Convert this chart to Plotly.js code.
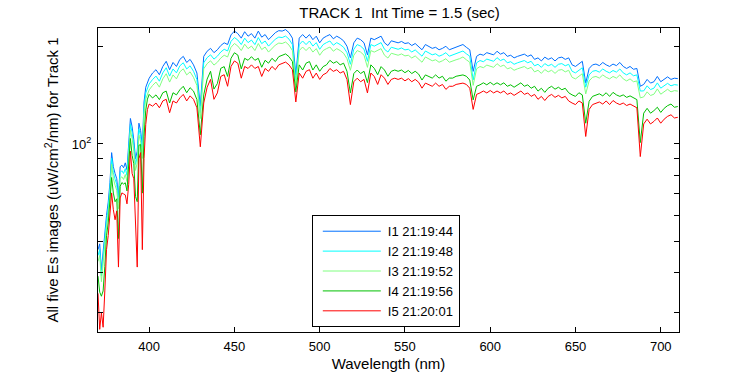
<!DOCTYPE html>
<html>
<head>
<meta charset="utf-8">
<script src="https://cdn.plot.ly/plotly-3.0.1.min.js"></script>
<style>html,body{margin:0;padding:0;background:#fff;}#chart{width:750px;height:375px;}</style>
</head>
<body>
<div id="chart"></div>
<script>
const wavelength = [370,371,372,373,374,375,376,377,378,379,380,381,382,383,384,385,386,387,388,389,390,391,392,393,394,395,396,397,398,399,400,
402,404,406,408,410,412,414,416,418,420,422,424,426,428,430,432,434,436,438,440,442,444,446,448,450,452,454,456,458,460,462,464,466,468,470,472,474,476,478,480,482,484,486,488,490,492,494,496,498,500,
502,504,506,508,510,512,514,516,518,520,522,524,526,528,530,532,534,536,538,540,542,544,546,548,550,552,554,556,558,560,562,564,566,568,570,572,574,576,578,580,582,584,586,588,590,592,594,596,598,600,
602,604,606,608,610,612,614,616,618,620,622,624,626,628,630,632,634,636,638,640,642,644,646,648,650,652,654,656,658,660,662,664,666,668,670,672,674,676,678,680,682,684,686,688,690,692,694,696,698,700,
702,704,706,708,710];

const es_I1 = [47,49,40.6,47,54,60,66,75.8,94,85,81,78,68.5,85,86,84.4,87.4,83.2,100,120,113,103,90,95,116,110,98,135,150,156,160,
166,170,164,174,180.5,170,179,174,183,187,179,183,176,166,131,187,194,198,192,196,202,206,203.5,218,224,220,213,223,216,220,213,224,214.5,218.5,210.7,216,221.5,224.7,224,226.4,221.5,213,164,213,218.5,213,218.5,210.7,216,206,
213,216,218.5,212,216,213,209,201,185,206,213,210.7,206,189,213,210.7,213,216,206,202,209,208,206,208,205,206,202,205,201,196,203.5,201,198,199.5,196,198,201,196,198,199.5,201,203.5,199.5,196,168,187,190,188.5,192,190,
189,194,190,192,187,188.5,185,187,188.5,190,187,189,183,185,181,186,183,185,181,185,186,183,185,176,174,177,180.5,154.5,171.5,176,177,175,179,176,174,177,175,179,174,171.5,174,170.5,171.5,151,153,158.6,154.5,156,162,156,
158.6,161.5,158.6,160,159.5];

const es_I2 = [45.1,47,39,45.1,51.8,57.6,63.4,72.8,90.2,81.6,77.8,74.9,65.8,81.6,82.6,81,83.9,79.9,96,115.2,108.5,98.9,86.4,91.2,111.4,105.6,94.1,129.6,144,149.8,153.6,
158.5,162.4,156.6,166.2,172.4,162.4,170.9,166.2,174.8,178.6,170.9,174.8,168.1,158.5,125.1,178.6,185.3,189.1,183.4,187.2,192.9,196.7,194.3,208.2,213.9,210.1,203.4,213,206.3,210.1,203.4,213.9,204.8,208.7,201.2,206.3,211.5,214.6,213.9,216.2,211.5,203.4,158,203.4,208.7,203.4,208.7,201.2,206.3,196.7,
203.4,206.3,208.7,202.5,206.3,203.4,199.6,192,176.7,196.7,203.4,201.2,196.7,180.5,203.4,201.2,203.4,206.3,196.7,192.9,199.6,198.6,196.7,198.6,195.8,196.7,192.9,195.8,192,187.2,194.3,192,189.1,190.5,187.2,189.1,192,187.2,189.1,190.5,192,194.3,190.5,187.2,158,178.6,181.5,180,183.4,181.5,
180.5,185.3,181.5,183.4,178.6,180,176.7,178.6,180,181.5,178.6,180.5,174.8,176.7,172.9,177.6,174.8,176.7,172.9,176.7,177.6,174.8,176.7,168.1,166.2,169,172.4,150,163.8,168.1,169,167.1,170.9,168.1,166.2,169,167.1,170.9,166.2,163.8,166.2,162.8,163.8,146,146.1,151.5,147.5,149,154.7,149,
151.5,154.2,151.5,152.8,152.3];

const es_I3 = [43.2,45.1,37.4,43.2,49.7,55.2,60.7,69.7,86.5,78.2,74.5,71.8,63,78.2,79.1,77.6,80.4,76.5,92,110.4,104,94.8,82.8,87.4,106.7,101.2,90.2,124.2,138,143.5,147.2,
151.9,155.6,150.1,159.2,165.2,155.6,163.8,159.2,167.4,171.1,163.8,167.4,161,151.9,119.9,171.1,177.5,181.2,175.7,179.3,184.8,188.5,186.2,199.5,205,201.3,194.9,204,197.6,201.3,194.9,205,196.3,199.9,192.8,197.6,202.7,205.6,205,207.2,202.7,194.9,152,194.9,199.9,194.9,199.9,192.8,197.6,188.5,
194.9,197.6,199.9,194,197.6,194.9,191.2,183.9,169.3,188.5,194.9,192.8,188.5,172.9,194.9,192.8,194.9,197.6,188.5,184.8,191.2,190.3,188.5,190.3,187.6,188.5,184.8,187.6,183.9,179.3,186.2,183.9,181.2,182.5,179.3,181.2,183.9,179.3,181.2,182.5,183.9,186.2,182.5,179.3,152,171.1,173.9,172.5,175.7,173.9,
172.9,177.5,173.9,175.7,171.1,172.5,169.3,171.1,172.5,173.9,171.1,172.9,167.4,169.3,165.6,170.2,167.4,169.3,165.6,169.3,170.2,167.4,169.3,161,159.2,162,165.2,143,156.9,161,162,160.1,163.8,161,159.2,162,160.1,163.8,159.2,156.9,159.2,156,156.9,139,140,145.1,141.4,142.7,148.2,142.7,
145.1,147.8,145.1,146.4,145.9];

const es_I4 = [38.9,34.7,33.7,35,41.7,51.9,56.9,65.1,78.7,70.4,66.2,67.6,50.9,73.9,75.9,75.1,75.8,71.5,83.8,104,92.2,86.8,68.7,66.2,99.1,99.6,70.4,105.7,127.3,137.8,142.5,
138.9,142,137.3,144.2,145.9,134,144.2,142,147.3,151,144.2,149.5,145.9,137.3,106.8,142,159,168.1,148,154,171.7,173.8,162,184.4,191.9,188.7,171,184.4,181.8,186.6,181.8,184.4,173,181.8,178.1,184.4,180.2,186.6,188.7,190.3,186.6,180.2,145,176,169.6,178.1,180.2,169.6,176,168.1,
173.8,176,181.8,178.1,180.2,176,178.1,168.1,144,165.4,169.6,165.4,168.1,155,176,171.7,164,173.8,169.6,162.2,168.1,169.6,168.1,169.6,166.4,169.1,165.4,168.1,164.8,157.9,163.8,162.2,160.1,163.8,160.1,162.2,156.6,160.1,160.1,162.2,162.7,163.8,162.2,157.9,137,151,152.6,154.8,152.6,155.3,
152.6,154.8,152.6,154.8,151,152.6,150,152.6,154.8,151,152.6,148.9,151,145.9,148.9,144.6,148.9,151,147.9,150,147.3,148.9,144.2,142,140.5,144.2,142,116,135.7,140.5,142,143.1,141,144.2,140.5,144.6,142,140.5,142,139.5,141,138.9,137.3,101,124.6,129,124.6,126.9,130,125.3,
129,131.5,133,130,130.7];

const es_I5 = [34.4,26.6,30,27,35,47,52,59.4,70.5,62.5,58.2,62,41.5,68,70.5,70,69.5,65.2,75,95,81,78,52.9,41.5,90,94,47,90,115,128,133,
131,134,129.5,136,137.6,125,136,134,139,142.5,136,141,137.6,129.5,98,134,150,158.6,137.6,144,162,164,151,174,181,178,160,174,171.5,176,171.5,174,162,171.5,168,174,170,176,178,179.5,176,170,135,166,160,168,170,160,166,158.6,
164,166,171.5,168,170,166,168,158.6,132.5,156,160,156,158.6,144,166,162,153,164,160,153,158.6,160,158.6,160,157,159.5,156,158.6,155.5,149,154.5,153,151,154.5,151,153,147.7,151,151,153,153.5,154.5,153,149,128,142.5,144,146,144,146.5,
144,146,144,146,142.5,144,141.5,144,146,142.5,144,140.5,142.5,137.6,140.5,136.4,140.5,142.5,139.5,141.5,139,140.5,136,134,132.5,136,134,105.5,128,132.5,134,135,133,136,132.5,136.4,134,132.5,134,131.6,133,131,129.5,91.4,115.4,119.4,115.4,117.5,120.4,116,
119.4,121.8,123.2,120.4,121];

const seriesNames = ['I1 21:19:44','I2 21:19:48','I3 21:19:52','I4 21:19:56','I5 21:20:01'];
const seriesColors = ['#0070ff','#00ffff','#80ff80','#00c000','#ff0000'];
const seriesValues = [es_I1, es_I2, es_I3, es_I4, es_I5];

const xTickVals = [400,450,500,550,600,650,700];
const yTickVals = [30,40,50,60,70,80,90,100,200];
const yTickText = ['','','','','','','','10<sup>2</sup>',''];

const traces = seriesValues.map((vals, i) => ({
  x: wavelength, y: vals, type: 'scatter', mode: 'lines',
  name: seriesNames[i],
  line: {color: seriesColors[i], width: 1}
}));

const font = 'Liberation Sans, Arial, Helvetica, sans-serif';
const layout = {
  width: 750, height: 375,
  margin: {l: 98, r: 71, t: 28, b: 43, pad: 0},
  paper_bgcolor: '#fff', plot_bgcolor: '#fff',
  font: {family: font, size: 13, color: '#000'},
  title: {text: 'TRACK 1 \u00a0Int Time = 1.5 (sec)', font: {family: font, size: 15, color: '#000'},
    x: 0.519, xref: 'paper', xanchor: 'center', y: 0.965, yanchor: 'middle'},
  xaxis: {
    range: [370, 710.7], tickvals: xTickVals, ticks: 'inside', ticklen: 5, tickcolor: '#000',
    showline: true, linecolor: '#000', linewidth: 1, mirror: 'ticks', showgrid: false, zeroline: false,
    tickfont: {size: 13}, ticklabelstandoff: 2,
    title: {text: 'Wavelength (nm)', font: {size: 15}, standoff: 5}
  },
  yaxis: {
    type: 'log', range: [Math.log10(26.1), Math.log10(229)], tickvals: yTickVals, ticktext: yTickText,
    ticks: 'inside', ticklen: 5, tickcolor: '#000',
    showline: true, linecolor: '#000', linewidth: 1, mirror: 'ticks', showgrid: false, zeroline: false,
    tickfont: {size: 13}, ticklabelstandoff: 3,
    title: {text: 'All five Es images (uW/cm<sup>2</sup>/nm) for Track 1', font: {size: 15}, standoff: 9}
  },
  showlegend: true,
  legend: {x: 0.368, y: 0.384, xanchor: 'left', yanchor: 'top', bgcolor: '#fff', bordercolor: '#000', borderwidth: 1,
    font: {size: 13}, itemwidth: 65, tracegroupgap: 0},
  hovermode: false
};

Plotly.newPlot('chart', traces, layout, {displayModeBar: false, staticPlot: true}).then(() => {
  document.querySelectorAll('#chart .legend .legendlines path').forEach(p => p.setAttribute('d', 'M10,0h58'));
});
</script>
</body>
</html>
